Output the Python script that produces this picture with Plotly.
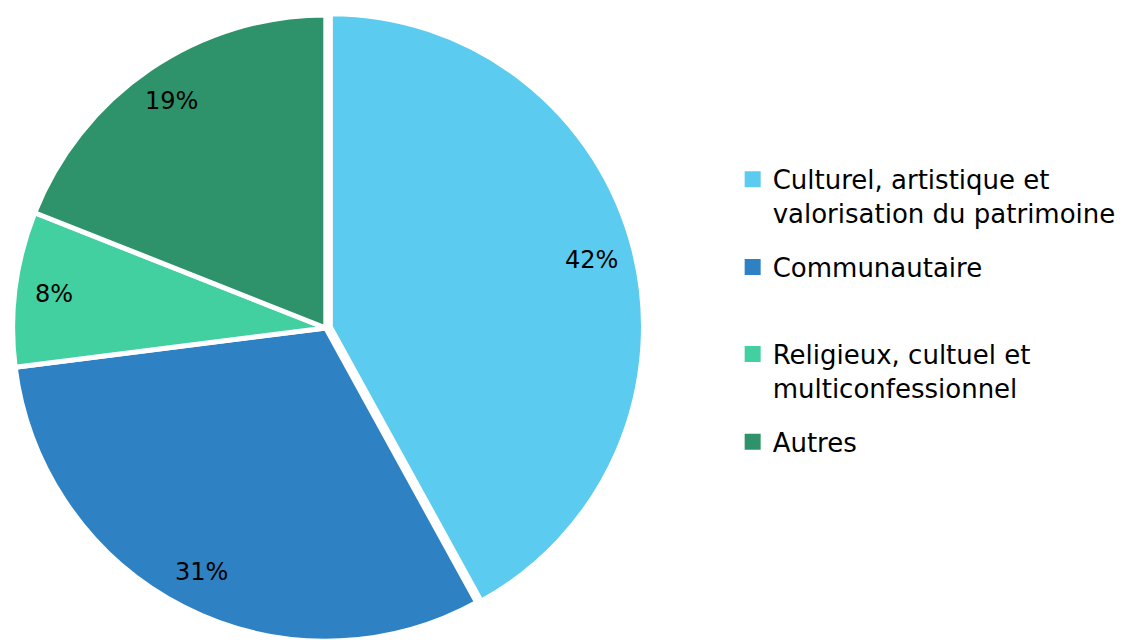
import math
import plotly.graph_objects as go

categories = ["Culturel, artistique et<br>valorisation du patrimoine",
              "Communautaire",
              "Religieux, cultuel et<br>multiconfessionnel",
              "Autres"]
values = [42, 31, 8, 19]
text_labels = ["42%", "31%", "8%", "19%"]
colors = ["#5BCBEF", "#2E81C3", "#43D0A0", "#2E936A"]
pulls = [0.015, 0, 0, 0]
legend_y = [0.769, 0.632, 0.496, 0.359]   # legend box top positions (paper)

W, H = 1127, 640
dom_x = [0, 0.564]
dom_y = [0, 1]
FONT = "DejaVu Sans, Verdana, sans-serif"

fig = go.Figure()
fig.add_trace(go.Pie(
    labels=categories,
    values=values,
    textinfo="none",
    marker=dict(colors=colors, line=dict(color="white", width=5)),
    sort=False,
    direction="clockwise",
    rotation=0,
    pull=pulls,
    domain=dict(x=dom_x, y=dom_y),
    showlegend=False,
    hoverinfo="label+percent",
))

# percentage labels placed near the outer edge of each slice
cx = (dom_x[0] + dom_x[1]) / 2 * W
cy = (dom_y[0] + dom_y[1]) / 2 * H
r = min((dom_x[1] - dom_x[0]) * W, (dom_y[1] - dom_y[0]) * H) / 2 / (1 + max(pulls))
total = sum(values)
start = 0.0
for v, t in zip(values, text_labels):
    mid = start + v / total * 360 / 2
    start += v / total * 360
    a = math.radians(mid)
    px = cx + 0.875 * r * math.sin(a)
    py = cy + 0.875 * r * math.cos(a)
    fig.add_annotation(x=px / W, y=py / H, xref="paper", yref="paper",
                       xanchor="center", yanchor="middle",
                       text=t, showarrow=False,
                       font=dict(size=24, color="black", family=FONT))

# legend entries (one legend each for exact spacing)
for i, (c, name) in enumerate(zip(colors, categories)):
    lg = "legend" if i == 0 else f"legend{i+1}"
    fig.add_trace(go.Scatter(
        x=[None], y=[None], mode="markers", name=name,
        marker=dict(symbol="square", size=17, color=c),
        legend=lg, showlegend=True, hoverinfo="skip",
    ))

leg_common = dict(x=0.643, xanchor="left", yanchor="top", valign="top",
                  bgcolor="rgba(0,0,0,0)", itemwidth=30,
                  font=dict(size=26, color="black", family=FONT))
layout_legends = {}
for i, y in enumerate(legend_y):
    key = "legend" if i == 0 else f"legend{i+1}"
    layout_legends[key] = dict(y=y, **leg_common)

fig.update_layout(
    width=W, height=H,
    margin=dict(l=0, r=0, t=0, b=0),
    paper_bgcolor="white",
    plot_bgcolor="white",
    font=dict(family=FONT, size=25, color="black"),
    xaxis=dict(visible=False),
    yaxis=dict(visible=False),
    **layout_legends,
)

fig.write_html("out.html")
